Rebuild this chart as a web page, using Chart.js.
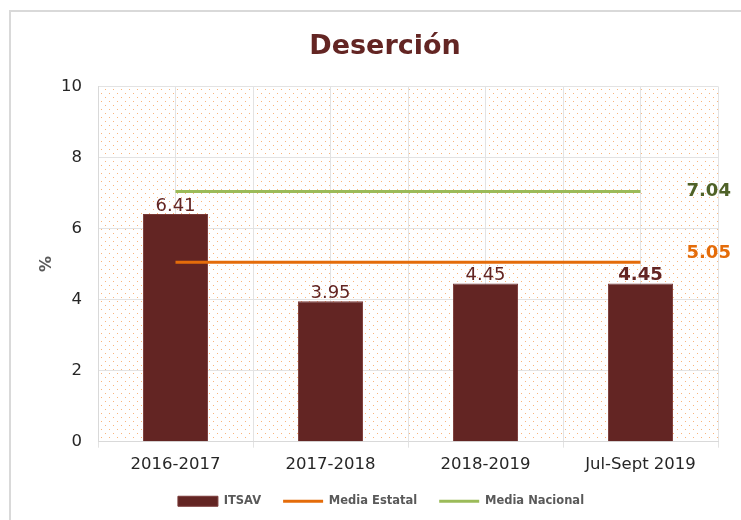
<!DOCTYPE html>
<html>
<head>
<meta charset="utf-8">
<script src="https://cdn.jsdelivr.net/npm/chart.js@4"></script>
<style>
    html, body { margin: 0; padding: 0; background: #fff; overflow: hidden; }
    #wrap { position: relative; width: 741px; height: 520px; }
    #frame { position: absolute; left: 9px; top: 10px; width: 760px; height: 540px; border: 2px solid #d9d9d9; box-sizing: border-box; }
    #chartDeser { position: absolute; left: 0; top: 0; }
</style>
</head>
<body>
<div id="wrap">
    <div id="frame"></div>
    <canvas id="chartDeser" width="741" height="520"></canvas>
</div>
<script>
//data
const periodos = ['2016-2017', '2017-2018', '2018-2019', 'Jul-Sept 2019'];
const itsav = [6.41, 3.95, 4.45, 4.45];
const mediaEstatal = [5.05, 5.05, 5.05, 5.05];
const mediaNacional = [7.04, 7.04, 7.04, 7.04];
const yTicks = [0, 2, 4, 6, 8, 10];

//colors
const vino = '#632523';
const naranja = '#e46c0a';
const verde = '#9bbb59';
const verdeOscuro = '#4f6228';

//dotted background
const makePattern = () => {
    const c = document.createElement('canvas');
    c.width = 8;
    c.height = 8;
    const g = c.getContext('2d');
    g.fillStyle = 'rgba(247,150,70,0.7)';
    g.fillRect(1, 1, 1, 1);
    g.fillRect(5, 5, 1, 1);
    return g.createPattern(c, 'repeat');
};

const fondoPlugin = {
    id: 'fondo',
    beforeDraw: (chart) => {
        const a = chart.chartArea;
        const ctx = chart.ctx;
        ctx.save();
        ctx.fillStyle = makePattern();
        ctx.fillRect(a.left, a.top, a.right - a.left, a.bottom - a.top);
        ctx.restore();
    }
};

//value labels + % axis title
const etiquetasPlugin = {
    id: 'etiquetas',
    afterDatasetsDraw: (chart) => {
        const ctx = chart.ctx;
        ctx.save();
        // bars
        const barMeta = chart.getDatasetMeta(0);
        barMeta.data.forEach((bar, i) => {
            const last = i === barMeta.data.length - 1;
            ctx.font = (last ? 'bold ' : '') + '18px "DejaVu Sans"';
            ctx.fillStyle = vino;
            ctx.textAlign = 'center';
            ctx.textBaseline = 'bottom';
            ctx.fillText(itsav[i].toFixed(2), bar.x, bar.y + 1);
        });
        // end of lines
        const ends = [
            { ds: 2, value: mediaNacional, color: verdeOscuro, dy: 0 },
            { ds: 1, value: mediaEstatal, color: naranja, dy: -9 }
        ];
        ends.forEach(e => {
            const pts = chart.getDatasetMeta(e.ds).data;
            const p = pts[pts.length - 1];
            ctx.font = 'bold 18px "DejaVu Sans"';
            ctx.fillStyle = e.color;
            ctx.textAlign = 'left';
            ctx.textBaseline = 'middle';
            ctx.fillText(e.value[e.value.length - 1].toFixed(2), p.x + 46, p.y + e.dy);
        });
        // y title
        const a = chart.chartArea;
        ctx.translate(47, (a.top + a.bottom) / 2);
        ctx.rotate(-Math.PI / 2);
        ctx.font = 'bold 16px "DejaVu Sans"';
        ctx.fillStyle = '#595959';
        ctx.textAlign = 'center';
        ctx.textBaseline = 'middle';
        ctx.fillText('%', 0, 0);
        ctx.restore();
    }
};

const deserGraph = () => {
    var ctx = document.getElementById('chartDeser').getContext('2d');
    var chart = new Chart(ctx, {
        type: 'bar',
        data: {
            labels: periodos,
            datasets: [{
                type: 'bar',
                label: 'ITSAV',
                data: itsav,
                backgroundColor: vino,
                borderColor: '#7a3a38',
                borderWidth: 1,
                pointStyle: 'rect',
                barPercentage: 0.42,
                categoryPercentage: 1,
                order: 1
            }, {
                type: 'line',
                label: 'Media Estatal',
                data: mediaEstatal,
                borderColor: naranja,
                backgroundColor: naranja,
                borderWidth: 3,
                pointRadius: 0,
                pointStyle: 'line',
                order: 0
            }, {
                type: 'line',
                label: 'Media Nacional',
                data: mediaNacional,
                borderColor: verde,
                backgroundColor: verde,
                borderWidth: 3,
                pointRadius: 0,
                pointStyle: 'line',
                order: 0
            }]
        },
        options: {
            responsive: false,
            animation: false,
            layout: {
                padding: { left: 52, right: 23, top: 0, bottom: 3 }
            },
            plugins: {
                title: {
                    display: true,
                    text: 'Deserción',
                    color: vino,
                    font: { family: 'DejaVu Sans', size: 27, weight: 'bold' },
                    padding: { top: 31, bottom: 23 }
                },
                legend: {
                    position: 'bottom',
                    labels: {
                        usePointStyle: true,
                        pointStyleWidth: 40,
                        boxHeight: 10,
                        padding: 14,
                        color: '#595959',
                        font: { family: 'DejaVu Sans', size: 11.5, weight: 'bold' },
                        sort: (a, b) => a.datasetIndex - b.datasetIndex,
                        generateLabels: (chart) => {
                            const items = Chart.defaults.plugins.legend.labels.generateLabels(chart);
                            items.forEach(it => { it.text = it.text + '  '; });
                            return items;
                        }
                    }
                },
                tooltip: { enabled: false }
            },
            scales: {
                x: {
                    grid: { offset: true, color: '#e3e3e3', tickLength: 6 },
                    border: { color: '#d9d9d9' },
                    ticks: {
                        color: '#262626',
                        padding: 7,
                        font: { family: 'DejaVu Sans', size: 16.5 }
                    }
                },
                x2: {
                    type: 'category',
                    labels: periodos,
                    position: 'bottom',
                    offset: true,
                    grid: { offset: false, color: '#e3e3e3', drawTicks: false },
                    border: { display: false },
                    ticks: { display: false }
                },
                y: {
                    min: 0,
                    max: 10,
                    afterBuildTicks: (axis) => { axis.ticks = yTicks.map(v => ({ value: v })); },
                    afterFit: (axis) => { axis.width = 46; },
                    grid: { color: '#e3e3e3', drawTicks: false },
                    border: { color: '#d9d9d9' },
                    ticks: {
                        color: '#262626',
                        padding: 16,
                        font: { family: 'DejaVu Sans', size: 16.5 }
                    }
                }
            }
        },
        plugins: [fondoPlugin, etiquetasPlugin]
    });
};

deserGraph()
</script>
</body>
</html>
